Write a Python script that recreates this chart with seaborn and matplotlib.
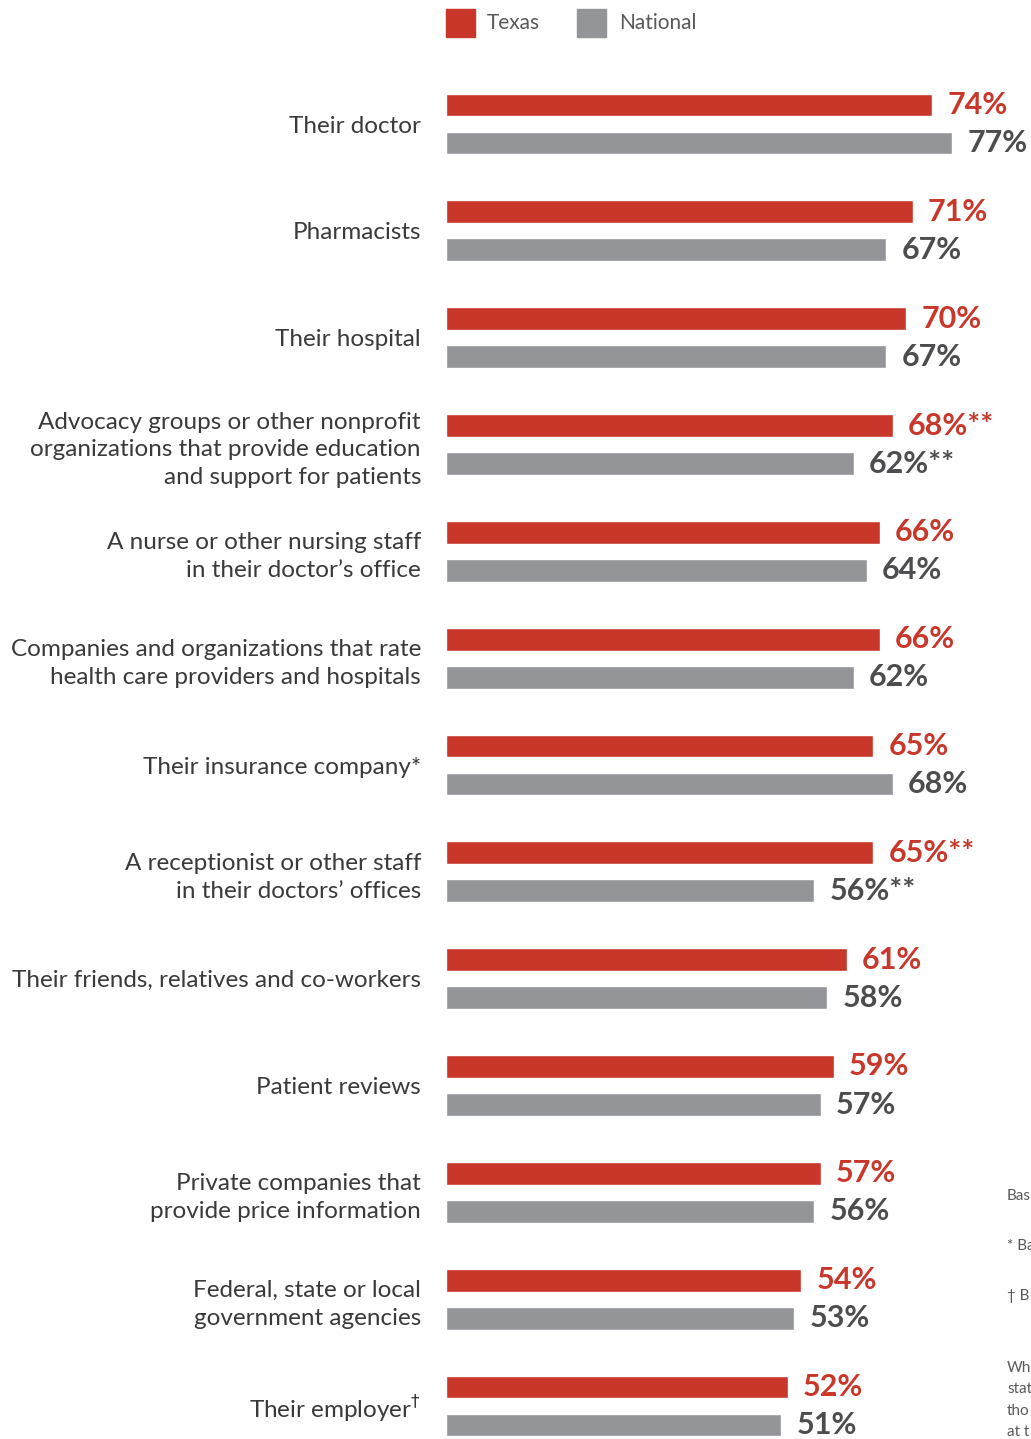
import pandas as pd
import seaborn as sns
import matplotlib.pyplot as plt
from matplotlib.patches import Rectangle

categories = [
    "Their doctor",
    "Pharmacists",
    "Their hospital",
    "Advocacy groups or other nonprofit\norganizations that provide education\nand support for patients",
    "A nurse or other nursing staff\nin their doctor\u2019s office",
    "Companies and organizations that rate\nhealth care providers and hospitals",
    "Their insurance company*",
    "A receptionist or other staff\nin their doctors\u2019 offices",
    "Their friends, relatives and co-workers",
    "Patient reviews",
    "Private companies that\nprovide price information",
    "Federal, state or local\ngovernment agencies",
    "Their employer$^{\\dagger}$",
]
texas = [74, 71, 70, 68, 66, 66, 65, 65, 61, 59, 57, 54, 52]
national = [77, 67, 67, 62, 64, 62, 68, 56, 58, 57, 56, 53, 51]
marks = ["", "", "", "**", "", "", "", "**", "", "", "", "", ""]
series = ["Texas", "National"]

red = "#C8372A"
grey = "#939598"
dark = "#4D4D4F"

data = pd.DataFrame({
    "cat": categories * 2,
    "value": texas + national,
    "series": ["Texas"] * len(texas) + ["National"] * len(national),
})

sns.set_style("white")
plt.rcParams['font.family'] = ['Lato', 'DejaVu Sans']

fig = plt.figure(figsize=(10.31, 14.39), dpi=100)
ax = fig.add_axes([446 / 1031, 0, 1 - 446 / 1031, 1])

sns.barplot(data=data, y="cat", x="value", hue="series", hue_order=series,
            palette=[red, grey], orient="h", width=0.712, gap=0.4,
            legend=False, ax=ax, saturation=1)

ax.set_xlim(0, 89)
ax.set_ylim(12.309, -1.161)
ax.set_xlabel("")
ax.set_ylabel("")
ax.set_xticks([])
sns.despine(ax=ax, left=True, bottom=True)
ax.tick_params(axis="y", length=0, pad=18)
for lab in ax.get_yticklabels():
    lab.set_fontsize(17.5)
    lab.set_color("#3A3A3C")
    lab.set_linespacing(1.4)
    lab.set_ha("right")

ax.bar_label(ax.containers[0], labels=[f"{v}%{m}" for v, m in zip(texas, marks)],
             padding=11, fontsize=22, fontweight="bold", color=red)
ax.bar_label(ax.containers[1], labels=[f"{v}%{m}" for v, m in zip(national, marks)],
             padding=11, fontsize=22, fontweight="bold", color=dark)

# legend
fig.patches.append(Rectangle((446 / 1031, 1 - 37 / 1439), 29 / 1031, 28 / 1439,
                             transform=fig.transFigure, color=red))
fig.text(487 / 1031, 1 - 23 / 1439, "Texas", fontsize=15, color="#58595B", va="center")
fig.patches.append(Rectangle((577 / 1031, 1 - 37 / 1439), 29 / 1031, 28 / 1439,
                             transform=fig.transFigure, color=grey))
fig.text(619 / 1031, 1 - 23 / 1439, "National", fontsize=15, color="#58595B", va="center")

# clipped footnotes at the right edge
notes = [("Bas", 1196), ("* Ba", 1246), ("\u2020 B", 1296),
         ("Wh", 1368), ("stat", 1389), ("tho", 1411), ("at t", 1432)]
for txt, yy in notes:
    fig.text(1007 / 1031, 1 - yy / 1439, txt, fontsize=11, color="#58595B", va="center")

fig.savefig("out.png", dpi=100)
